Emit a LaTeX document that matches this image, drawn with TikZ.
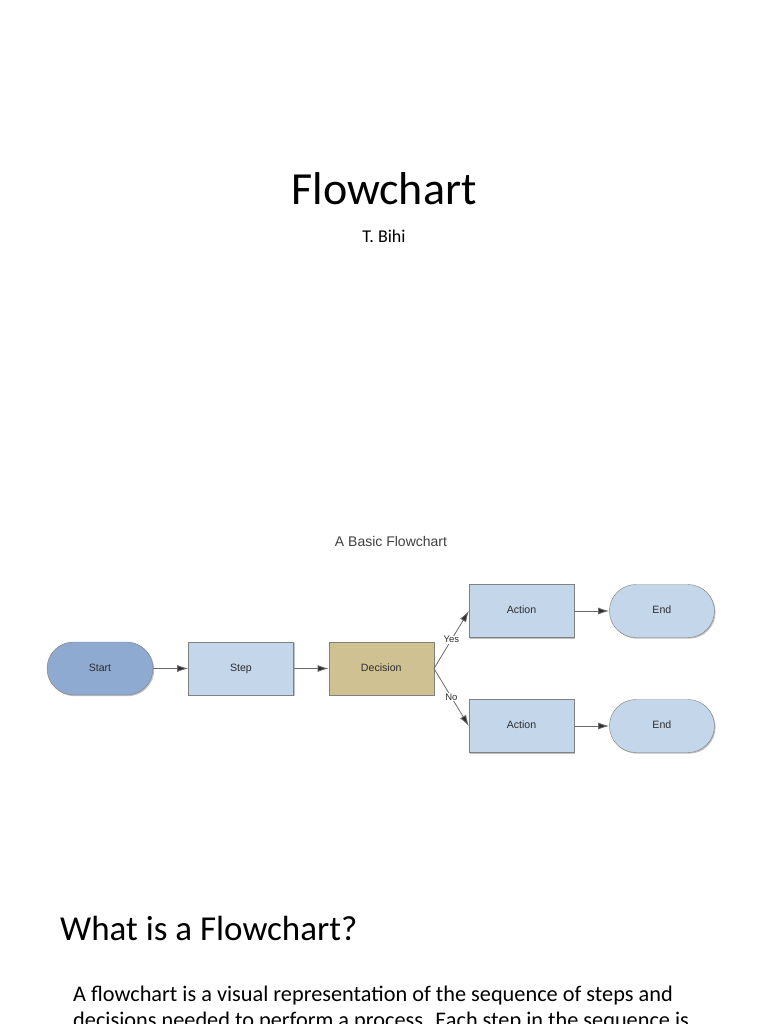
\documentclass[tikz,border=0pt]{standalone}
\usepackage{fontspec}
\setmainfont{Carlito}
\newfontfamily\chartfont{Liberation Sans}
\usepackage{xcolor}
\usetikzlibrary{shapes.misc,arrows.meta,positioning,shadows}

\definecolor{startblue}{HTML}{8FAAD0}
\definecolor{boxblue}{HTML}{C4D6EA}
\definecolor{decisiontan}{HTML}{CFC192}
\definecolor{edgegray}{HTML}{808080}
\definecolor{inkgray}{HTML}{2E2E2E}
\definecolor{linegray}{HTML}{6A6A6A}

\begin{document}
\begin{tikzpicture}[x=1pt, y=-1pt,
  box/.style={draw=edgegray, fill=boxblue, minimum width=105pt, minimum height=53pt, inner sep=0pt,
    text height=7.5pt, text depth=2pt,
    font=\chartfont\fontsize{10.6}{12}\selectfont, text=inkgray,
    drop shadow={shadow xshift=1.2pt, shadow yshift=-1.2pt, opacity=0.25, fill=black}},
  term/.style={box, rounded rectangle},
  link/.style={draw=linegray, line width=0.8pt, -{Latex[length=11pt,width=7pt,fill=inkgray]}},
  tag/.style={fill=white, inner sep=0.5pt, font=\chartfont\fontsize{9.5}{11}\selectfont, text=inkgray}]

  \fill [white] (0,0) rectangle (768,1024);
  \useasboundingbox (0,0) rectangle (768,1024);

  % title slide
  \node [anchor=base, font=\fontsize{46}{52}\selectfont] at (384,205) (title) {Flowchart};
  \node [anchor=base, font=\fontsize{18}{20}\selectfont] at (384,243) (author) {T. Bihi};

  % the chart
  \node [anchor=base, font=\chartfont\fontsize{14}{16}\selectfont, text=black!75] at (391,546) (cap) {A Basic Flowchart};
  \node [term, fill=startblue, minimum width=106pt] at (100,668.5) (S) {Start};
  \node [box, right=35pt of S] (ST) {Step};
  \node [box, fill=decisiontan, right=35pt of ST] (D) {Decision};
  \node [box] at (521.5,611) (A1) {Action};
  \node [term, right=35pt of A1] (E1) {End};
  \node [box] at (521.5,726) (A2) {Action};
  \node [term, right=35pt of A2] (E2) {End};

  \draw [link] (S.east) to (ST.west);
  \draw [link] (ST.east) to (D.west);
  \draw [link] (D.east) to node[tag] {Yes} (A1.west);
  \draw [link] (D.east) to node[tag] {No} (A2.west);
  \draw [link] (A1.east) to (E1.west);
  \draw [link] (A2.east) to (E2.west);

  % next slide
  \node [anchor=base west, inner sep=0pt, font=\fontsize{35}{40}\selectfont] at (60,940) (head) {What is a Flowchart?};
  \node [anchor=base west, inner sep=0pt, font=\fontsize{22.3}{26}\selectfont] at (73,1001) (body1) {A flowchart is a visual representation of the sequence of steps and};
  \node [anchor=base west, inner sep=0pt, font=\fontsize{22.3}{26}\selectfont] at (73,1027) (body2) {decisions needed to perform a process. Each step in the sequence is};
\end{tikzpicture}
\end{document}
